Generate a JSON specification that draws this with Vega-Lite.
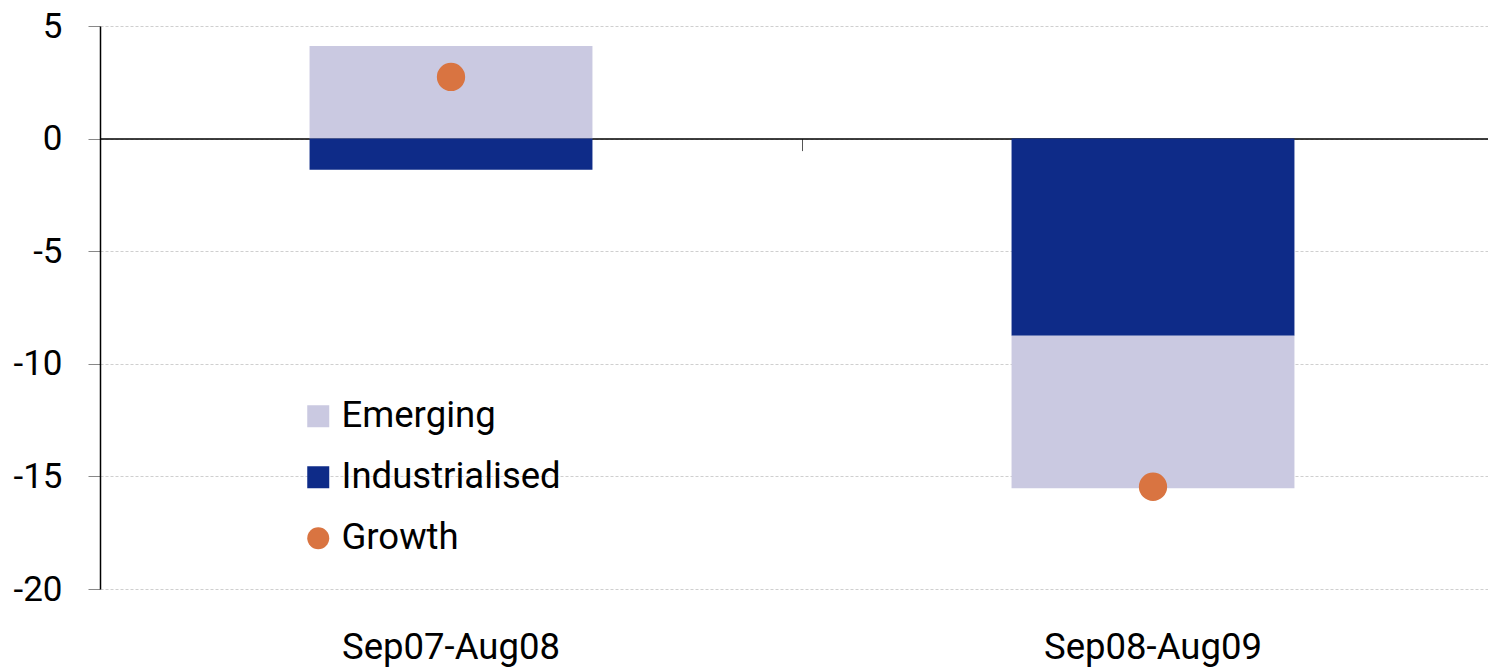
{
  "$schema": "https://vega.github.io/schema/vega-lite/v6.json",
  "autosize": "none",
  "width": 1404,
  "height": 563,
  "padding": {"left": 100, "top": 26, "right": 0, "bottom": 80},
  "background": "white",
  "config": {
    "view": {"stroke": null},
    "font": "Roboto"
  },
  "datasets": {
    "contributions": [
      {"period": "Sep07-Aug08", "series": "Emerging", "value": 4.11},
      {"period": "Sep07-Aug08", "series": "Industrialised", "value": -1.38},
      {"period": "Sep08-Aug09", "series": "Industrialised", "value": -8.75},
      {"period": "Sep08-Aug09", "series": "Emerging", "value": -6.78}
    ],
    "growth": [
      {"period": "Sep07-Aug08", "series": "Growth", "value": 2.74},
      {"period": "Sep08-Aug09", "series": "Growth", "value": -15.46}
    ]
  },
  "layer": [
    {
      "data": {"name": "contributions"},
      "mark": {"type": "bar", "width": {"band": 0.403}},
      "encoding": {
        "x": {
          "field": "period",
          "type": "nominal",
          "sort": null,
          "scale": {"paddingInner": 0, "paddingOuter": 0},
          "axis": {
            "title": null,
            "orient": "bottom",
            "offset": -450.4,
            "bandPosition": 0,
            "labelAngle": 0,
            "labelFontSize": 36.5,
            "labelColor": "black",
            "labelLimit": 0,
            "labelPadding": 479,
            "labelBaseline": "top",
            "tickSize": 12,
            "tickColor": "#555555",
            "tickWidth": 1,
            "domainColor": "black",
            "domainWidth": 1.5
          }
        },
        "y": {
          "field": "value",
          "type": "quantitative",
          "stack": "zero",
          "scale": {"domain": [-20, 5], "nice": false},
          "axis": {
            "title": null,
            "values": [-20, -15, -10, -5, 0, 5],
            "labelExpr": "'' + datum.value",
            "labelFontSize": 35,
            "labelColor": "black",
            "labelPadding": 26,
            "tickSize": 12,
            "tickColor": "#888888",
            "domainColor": "black",
            "domainWidth": 1.5,
            "grid": true,
            "gridColor": "#cfcfcf",
            "gridDash": [3, 2],
            "gridWidth": 1
          }
        },
        "color": {
          "field": "series",
          "type": "nominal",
          "scale": {
            "domain": ["Emerging", "Industrialised", "Growth"],
            "range": ["#CAC9E1", "#0E2B88", "#D97441"]
          },
          "legend": {
            "title": null,
            "orient": "none",
            "legendX": 200,
            "legendY": 372,
            "direction": "vertical",
            "labelFontSize": 36.5,
            "labelColor": "black",
            "labelLimit": 0,
            "labelOffset": 5,
            "symbolSize": 484,
            "symbolType": "square",
            "symbolStrokeWidth": 0,
            "rowPadding": 24,
            "encode": {
              "symbols": {
                "update": {
                  "shape": {"signal": "datum.value === 'Growth' ? 'circle' : 'square'"}
                }
              }
            }
          }
        },
        "order": {"field": "series", "sort": "descending"}
      }
    },
    {
      "data": {"name": "growth"},
      "mark": {"type": "circle", "size": 800, "opacity": 1},
      "encoding": {
        "x": {"field": "period", "type": "nominal", "sort": null},
        "y": {"field": "value", "type": "quantitative"},
        "color": {"field": "series", "type": "nominal"}
      }
    }
  ]
}
